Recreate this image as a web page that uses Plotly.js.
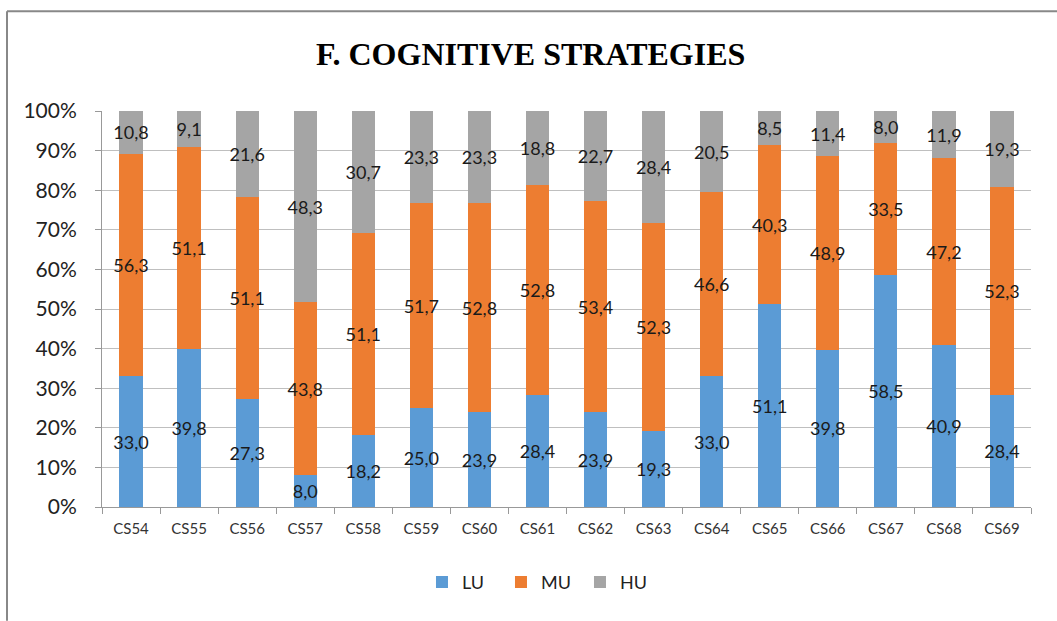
<!DOCTYPE html>
<html>
<head>
<meta charset="utf-8">
<script src="https://cdn.plot.ly/plotly-3.0.1.min.js"></script>
<style>
html,body{margin:0;padding:0;background:#fff;}
#chart{width:1057px;height:621px;}
</style>
</head>
<body>
<div id="chart"></div>
<script>
var categories = ["CS54","CS55","CS56","CS57","CS58","CS59","CS60","CS61","CS62","CS63","CS64","CS65","CS66","CS67","CS68","CS69"];
var LU = [33.0,39.8,27.3,8.0,18.2,25.0,23.9,28.4,23.9,19.3,33.0,51.1,39.8,58.5,40.9,28.4];
var MU = [56.3,51.1,51.1,43.8,51.1,51.7,52.8,52.8,53.4,52.3,46.6,40.3,48.9,33.5,47.2,52.3];
var HU = [10.8,9.1,21.6,48.3,30.7,23.3,23.3,18.8,22.7,28.4,20.5,8.5,11.4,8.0,11.9,19.3];
var yTicks = [0,10,20,30,40,50,60,70,80,90,100];
var yTickText = ["0%","10%","20%","30%","40%","50%","60%","70%","80%","90%","100%"];

function fmt(v){ return v.toFixed(1).replace('.', ','); }

function mk(name, vals, color){
  return {
    type:'bar', name:name, x:categories, y:vals,
    marker:{color:color},
    text: vals.map(fmt),
    textposition:'inside',
    insidetextanchor:'middle',
    textangle:0,
    constraintext:'none',
    textfont:{family:'Lato, "Open Sans", sans-serif', size:18, color:'#1a1a1a'},
    cliponaxis:false,
    hoverinfo:'none'
  };
}

var data = [
  mk('LU', LU, '#5B9BD5'),
  mk('MU', MU, '#ED7D31'),
  mk('HU', HU, '#A5A5A5')
];

var layout = {
  width:1057, height:621,
  margin:{l:102, r:26, t:111, b:114},
  paper_bgcolor:'#fff', plot_bgcolor:'#fff',
  barmode:'stack', barnorm:'percent', bargap:0.6,
  title:{text:'<b>F. COGNITIVE STRATEGIES</b>', x:0.502, xanchor:'center', y:1-54/621, yanchor:'middle',
         font:{family:'"Liberation Serif", "Times New Roman", serif', size:32, color:'#000'}},
  xaxis:{
    type:'category', tickson:'boundaries', ticks:'outside', ticklen:6, tickcolor:'#999',
    showline:true, linecolor:'#999', linewidth:1, showgrid:false,
    tickfont:{family:'Lato, "Open Sans", sans-serif', size:15, color:'#333'},
    ticklabelstandoff:8
  },
  yaxis:{
    range:[0,100], tickvals:yTicks, ticktext:yTickText,
    ticks:'outside', ticklen:6, tickcolor:'#999',
    showline:true, linecolor:'#999', linewidth:1,
    showgrid:true, gridcolor:'#BFBFBF', gridwidth:1, zeroline:false,
    tickfont:{family:'Lato, "Open Sans", sans-serif', size:21, color:'#222'},
    ticklabelstandoff:14
  },
  legend:{orientation:'h', x:0.472, xanchor:'center', y:-0.19, yanchor:'middle',
          font:{family:'Lato, "Open Sans", sans-serif', size:18, color:'#222'},
          itemwidth:30, entrywidth:34, entrywidthmode:'pixels', traceorder:'normal'},
  shapes:[
    {type:'line', xref:'paper', yref:'paper', x0:(7-102)/929, x1:(1057-102)/929, y0:(507-10)/397, y1:(507-10)/397, line:{color:'#888', width:2}},
    {type:'line', xref:'paper', yref:'paper', x0:(7-102)/929, x1:(7-102)/929, y0:(507-10)/397, y1:(507-621)/397, line:{color:'#888', width:2}}
  ],
  showlegend:true
};

Plotly.newPlot('chart', data, layout, {displayModeBar:false, staticPlot:true});
</script>
</body>
</html>
